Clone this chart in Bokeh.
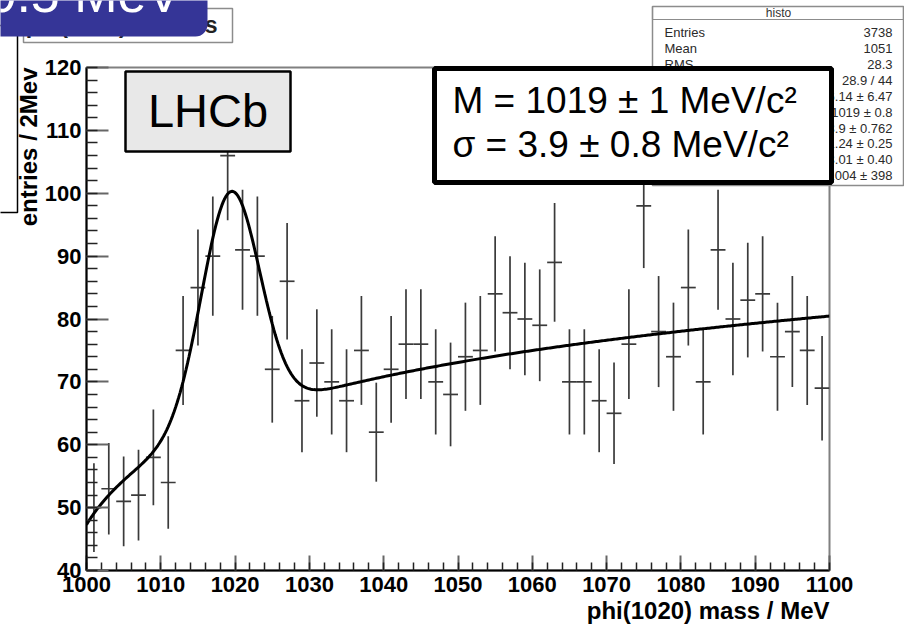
import numpy as np
from bokeh.plotting import figure
from bokeh.models import Label, BoxAnnotation, FixedTicker, Range1d, Title
from bokeh.layouts import column
from bokeh.embed import file_html
from bokeh.resources import INLINE

# ---------------- data ----------------
bin_width = 2.0
bin_centers = np.arange(1001, 1100, 2)          # 50 bins of 2 MeV
counts = np.array([50, 53, 51, 52, 58, 54, 75, 85, 90, 106,
                   91, 90, 72, 86, 67, 73, 70, 67, 75, 62,
                   72, 76, 76, 70, 68, 74, 75, 84, 81, 80,
                   79, 89, 70, 70, 67, 65, 76, 98, 78, 74,
                   85, 70, 91, 80, 83, 84, 74, 78, 75, 69], dtype=float)
errors = np.sqrt(counts)

# fit: gaussian signal + log-shaped background
fit_mean = 1019.4
fit_sigma = 3.9
fit_amp = 36.3
bg_a = 26.6
bg_c = 11.55
bg_x0 = 994.0

x_ticks = [1000, 1010, 1020, 1030, 1040, 1050, 1060, 1070, 1080, 1090, 1100]
x_minor = list(range(1000, 1101, 2))
y_ticks = [40, 50, 60, 70, 80, 90, 100, 110, 120]
y_minor = list(range(40, 121, 2))

stats_labels = ["Entries", "Mean", "RMS"]
stats_values = ["3738", "1051", "28.3", "28.9 / 44", "36.14 \u00b1 6.47",
                "1019 \u00b1 0.8", "3.9 \u00b1 0.762", "1.24 \u00b1 0.25",
                "3.01 \u00b1 0.40", "1004 \u00b1 398"]

W, H = 904, 635
FL, FR, FT, FB = 86, 829, 67, 570
def X(px):
    return 1000 + (px - FL) * 100.0 / (FR - FL)
def Y(py):
    return 40 + (FB - py) * 80.0 / (FB - FT)

FONT = "Liberation Sans"

# =============== main plot ===============
p = figure(width=W, height=H, x_range=Range1d(1000, 1100), y_range=Range1d(40, 120),
           output_backend="svg", toolbar_location=None,
           min_border_left=FL, min_border_right=W - FR,
           min_border_top=FT, min_border_bottom=H - FB)
p.xgrid.visible = False
p.ygrid.visible = False
p.outline_line_color = "#808080"
p.outline_line_width = 2
p.background_fill_color = "white"
p.border_fill_color = "white"

p.xaxis.ticker = FixedTicker(ticks=x_ticks, minor_ticks=x_minor)
p.yaxis.ticker = FixedTicker(ticks=y_ticks, minor_ticks=y_minor)
for ax, tin, mtin in ((p.xaxis, 15, 8), (p.yaxis, 22, 11)):
    ax.axis_line_color = "black"
    ax.axis_line_width = 2
    ax.major_tick_in = tin
    ax.major_tick_out = 0
    ax.minor_tick_in = mtin
    ax.minor_tick_out = 0
    ax.major_tick_line_color = "#666666"
    ax.major_tick_line_width = 2
    ax.minor_tick_line_color = "#222222"
    ax.minor_tick_line_width = 1.5
    ax.major_label_text_font = FONT
    ax.major_label_text_font_style = "bold"
    ax.major_label_text_font_size = "22px"
    ax.major_label_text_color = "black"
p.xaxis.major_label_standoff = 6
p.yaxis.major_label_standoff = 5

p.add_layout(Title(text="phi(1020) mass / MeV", align="right", text_font=FONT,
                   text_font_size="24px", text_font_style="bold", text_color="black",
                   standoff=0, offset=0), "below")
p.add_layout(Title(text="entries / 2Mev", align="right", text_font=FONT,
                   text_font_size="24px", text_font_style="bold", text_color="black",
                   standoff=0, offset=0), "left")

# histogram with error bars
p.segment(x0=bin_centers, y0=counts - errors, x1=bin_centers, y1=counts + errors,
          line_color="#3a3a3a", line_width=1.7)
p.segment(x0=bin_centers - bin_width / 2, y0=counts, x1=bin_centers + bin_width / 2, y1=counts,
          line_color="#3a3a3a", line_width=1.7)

# fit curve
xf = np.linspace(1000, 1100, 501)
yf = fit_amp * np.exp(-0.5 * ((xf - fit_mean) / fit_sigma) ** 2) + bg_a + bg_c * np.log(xf - bg_x0)
p.line(xf, yf, line_color="black", line_width=3)

# LHCb box (inside the frame)
p.add_layout(BoxAnnotation(left=X(125), right=X(290), top=Y(71), bottom=Y(151),
                           fill_color="#e8e8e8", fill_alpha=1, line_color="black",
                           line_alpha=1, line_width=2.5))
p.add_layout(Label(x=X(207.5), y=Y(110), text="LHCb", text_align="center", text_baseline="middle",
                   text_font=FONT, text_font_size="47px", text_color="black"))

# =============== overlay (page-pixel annotations) ===============
ov = figure(width=W, height=H, x_range=Range1d(0, W), y_range=Range1d(H, 0),
            output_backend="svg", toolbar_location=None, x_axis_type=None, y_axis_type=None,
            min_border=0, outline_line_color=None,
            styles={"position": "absolute", "left": "0px", "top": "0px", "z-index": "10"})
ov.background_fill_alpha = 0
ov.border_fill_alpha = 0
ov.xgrid.visible = False
ov.ygrid.visible = False
for fig in (p, ov):
    if hasattr(fig, "frame_align"):
        fig.frame_align = False


def box(l, r, t, b, **kw):
    style = dict(fill_color="white", fill_alpha=1, line_color="black", line_alpha=1, line_width=1.5)
    style.update(kw)
    ov.add_layout(BoxAnnotation(left=l, right=r, top=t, bottom=b, **style))


def label(px, py, text, **kw):
    style = dict(text_font=FONT, text_color="black", text_baseline="middle")
    style.update(kw)
    ov.add_layout(Label(x=px, y=py, text=text, **style))


# stats box (top right)
box(652, 903, 6, 185, line_color="#8c8c8c")
box(652, 903, 6, 19, fill_alpha=0, line_color="#8c8c8c", line_width=1.2)
label(778, 12, "histo", text_align="center", text_font_size="12px", text_color="#333333")
row_y = [32, 48, 64, 80, 96, 112, 128, 143, 159, 175]
for i, lab in enumerate(stats_labels):
    label(664, row_y[i], lab, text_align="left", text_font_size="13px", text_color="#2a2a2a")
for i, val in enumerate(stats_values):
    label(892, row_y[i], val, text_align="right", text_font_size="13px", text_color="#2a2a2a")

# top-left boxes
box(-5, 17, 25, 212)
box(23, 232, 8, 42, line_color="#8c8c8c")
label(217, 24, "phi(1020) masses", text_align="right",
      text_font_size="23px", text_font_style="bold", text_color="#222222")
box(-20, 207, -20, 36, fill_color="#353597", line_alpha=0, border_radius=12)
label(-13, -7, "0.5 MeV", text_align="left", text_font_size="52px", text_color="white")

# fit result box
box(434, 831, 68, 182, line_width=5)
label(452, 100, "M = 1019 \u00b1 1 MeV/c\u00b2", text_align="left", text_font_size="37px")
label(452, 144, "\u03c3 = 3.9 \u00b1 0.8 MeV/c\u00b2", text_align="left", text_font_size="37px")

layout = column(p, ov, styles={"position": "relative"})
open("out.html", "w").write(file_html(layout, INLINE))
